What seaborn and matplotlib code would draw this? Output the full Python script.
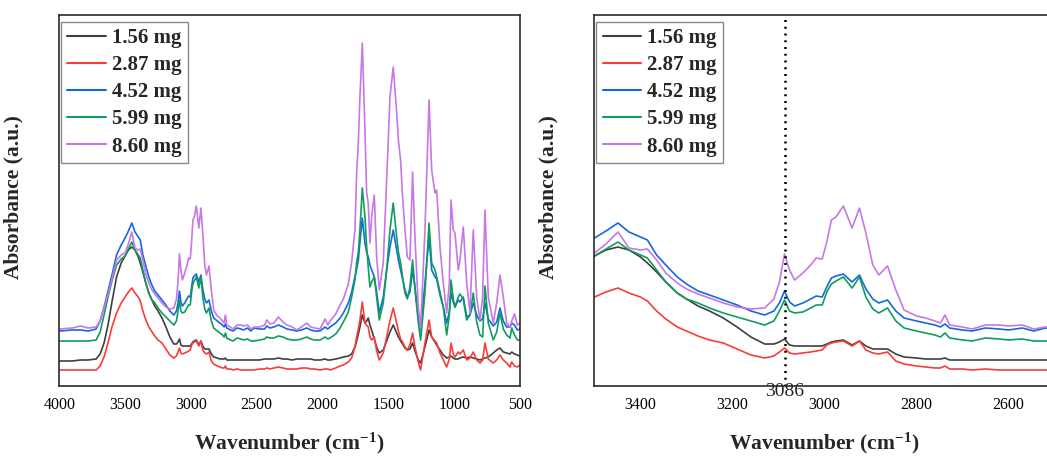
import matplotlib
matplotlib.use("Agg")
import matplotlib.pyplot as plt
import matplotlib.ticker as mticker
import pandas as pd
import seaborn as sns

# ---------------- data ----------------
wavenumber = [
    4000, 3900, 3840, 3780, 3720, 3690, 3660, 3630, 3600, 3565, 3530, 3500,
    3475, 3449, 3425, 3400, 3385, 3365, 3345, 3320, 3300, 3275, 3250, 3220, 3190, 3160, 3130,
    3110, 3098, 3087, 3076, 3065, 3047, 3030, 3018, 3005, 2995, 2985, 2975, 2959, 2940, 2924,
    2910, 2895, 2882, 2863, 2845, 2827, 2800, 2780, 2760, 2748, 2738, 2728, 2700, 2679, 2650,
    2620, 2600, 2570, 2545, 2520,
    2480, 2440, 2424, 2400, 2370, 2336, 2300, 2270, 2230, 2196, 2160, 2120, 2090, 2060, 2019,
    1981, 1960, 1943, 1900, 1867, 1842, 1804,
    1779, 1754, 1741, 1728, 1716, 1698, 1678, 1665, 1653, 1640, 1627, 1607, 1589, 1569, 1539,
    1513, 1488, 1463, 1437, 1424, 1407, 1392, 1374, 1356, 1336, 1316, 1298, 1273, 1255, 1222,
    1191, 1171, 1146, 1133, 1108, 1083, 1057, 1037, 1024, 1007, 994, 969, 956, 931, 905,
    880, 855, 829, 804, 784, 766, 741, 703, 677, 652, 627, 601, 576, 563, 542, 520, 500,
]

abs_156 = [
    .26, .26, .27, .27, .28, .33, .44, .62, .85, 1.10, 1.24, 1.31,
    1.37, 1.40, 1.37, 1.30, 1.24, 1.15, 1.05, .94, .88, .81, .76, .69, .60, .50, .43,
    .43, .45, .48, .42, .41, .41, .41, .41, .41, .43, .45, .46, .47, .42, .46,
    .41, .38, .38, .38, .33, .30, .29, .28, .28, .28, .29, .27, .27, .27, .27,
    .27, .27, .27, .27, .27,
    .27, .28, .28, .28, .28, .29, .28, .28, .27, .28, .28, .28, .28, .27, .27,
    .28, .27, .27, .28, .29, .30, .31,
    .33, .40, .46, .53, .60, .72, .64, .66, .69, .62, .57, .48, .40, .34, .37,
    .46, .55, .62, .54, .50, .46, .43, .39, .37, .38, .44, .36, .27, .24, .40,
    .57, .50, .45, .42, .37, .32, .29, .30, .31, .29, .28, .28, .29, .30, .29,
    .30, .29, .28, .27, .28, .29, .30, .34, .37, .39, .35, .34, .33, .35, .33, .32, .31,
]

abs_287 = [
    .17, .17, .17, .17, .17, .21, .30, .44, .60, .74, .84, .90,
    .95, .99, .94, .90, .86, .76, .68, .60, .56, .51, .47, .44, .38, .32, .29,
    .31, .35, .39, .34, .33, .34, .35, .36, .37, .42, .44, .45, .46, .41, .46,
    .37, .34, .33, .35, .26, .23, .21, .20, .19, .19, .21, .18, .18, .17, .18,
    .17, .17, .17, .17, .17,
    .18, .18, .19, .18, .19, .20, .19, .18, .18, .18, .19, .19, .18, .18, .17,
    .18, .18, .17, .19, .21, .22, .25,
    .29, .40, .50, .58, .67, .85, .64, .62, .60, .50, .47, .50, .36, .27, .34,
    .50, .66, .79, .64, .56, .48, .45, .40, .37, .42, .54, .40, .25, .17, .44,
    .67, .50, .46, .44, .34, .27, .20, .28, .44, .33, .30, .35, .33, .37, .27,
    .29, .35, .27, .24, .27, .44, .28, .24, .27, .32, .27, .24, .20, .25, .21, .20, .22,
]

abs_452 = [
    .56, .57, .57, .56, .58, .66, .80, .96, 1.12, 1.32, 1.42, 1.49,
    1.56, 1.64, 1.55, 1.50, 1.47, 1.32, 1.22, 1.10, 1.03, .96, .92, .87, .82, .76, .72,
    .76, .84, .96, .85, .81, .84, .88, .91, .90, 1.00, 1.09, 1.11, 1.13, 1.05, 1.12,
    .98, .88, .84, .87, .76, .69, .66, .64, .62, .60, .63, .59, .57, .56, .59,
    .58, .57, .59, .56, .59,
    .58, .58, .61, .59, .60, .62, .60, .58, .57, .56, .57, .59, .57, .56, .56,
    .60, .58, .60, .64, .69, .74, .84,
    .95, 1.10, 1.18, 1.27, 1.45, 1.69, 1.44, 1.35, 1.30, 1.22, 1.17, 1.10, .95, .74, .90,
    1.17, 1.40, 1.57, 1.37, 1.27, 1.17, 1.08, .97, .90, .95, 1.17, 1.00, .70, .57, 1.04,
    1.50, 1.17, 1.10, 1.08, .92, .80, .64, .75, .94, .85, .80, .87, .85, .90, .70,
    .72, .84, .72, .66, .68, .84, .68, .61, .65, .79, .66, .60, .60, .64, .62, .57, .58,
]

abs_599 = [
    .46, .46, .46, .46, .47, .55, .72, .90, 1.06, 1.22, 1.28, 1.31,
    1.38, 1.45, 1.37, 1.32, 1.29, 1.17, 1.05, .94, .88, .84, .79, .74, .70, .66, .62,
    .66, .76, .87, .76, .74, .75, .79, .82, .82, .95, 1.03, 1.06, 1.10, .99, 1.10,
    .90, .78, .74, .79, .66, .59, .56, .54, .52, .50, .54, .49, .47, .46, .49,
    .48, .47, .48, .46, .46,
    .47, .48, .50, .49, .49, .51, .50, .48, .47, .47, .48, .50, .48, .47, .47,
    .50, .48, .49, .53, .59, .65, .75,
    .90, 1.07, 1.25, 1.35, 1.57, 1.99, 1.70, 1.40, 1.20, 1.00, 1.05, 1.10, .90, .67, .84,
    1.17, 1.57, 1.84, 1.50, 1.35, 1.24, 1.10, .94, .88, 1.00, 1.27, .98, .65, .47, .94,
    1.64, 1.24, 1.17, 1.10, .95, .80, .52, .72, 1.07, .88, .80, .90, .93, .88, .67,
    .72, .94, .65, .52, .50, 1.01, .64, .47, .55, .74, .58, .52, .49, .59, .52, .47, .47,
]

abs_860 = [
    .58, .59, .61, .59, .60, .66, .79, .93, 1.08, 1.27, 1.32, 1.34,
    1.43, 1.55, 1.39, 1.37, 1.38, 1.27, 1.14, 1.04, .98, .93, .89, .84, .80, .78, .79,
    .88, 1.05, 1.33, 1.17, 1.07, 1.14, 1.22, 1.29, 1.28, 1.45, 1.67, 1.70, 1.81, 1.59, 1.79,
    1.54, 1.22, 1.12, 1.21, .97, .77, .71, .69, .66, .64, .72, .62, .60, .58, .62,
    .62, .61, .62, .58, .60,
    .60, .62, .67, .63, .64, .70, .65, .62, .60, .57, .60, .64, .60, .59, .58,
    .68, .62, .66, .73, .82, .88, 1.03,
    1.25, 1.57, 2.14, 2.45, 2.90, 3.44, 2.57, 1.94, 1.84, 1.44, 1.70, 1.92, 1.30, .97, 1.24,
    2.07, 2.90, 3.20, 2.75, 2.47, 2.27, 1.90, 1.57, 1.30, 1.27, 2.15, 1.50, .80, .59, 1.57,
    2.87, 2.17, 1.94, 1.97, 1.40, 1.04, .74, 1.04, 1.87, 1.57, 1.54, 1.17, 1.27, 1.60, 1.04,
    .74, 1.57, .90, .67, .90, 1.77, .90, .64, .84, 1.12, .90, .64, .60, .66, .73, .62, .64,
]

labels = ["1.56 mg", "2.87 mg", "4.52 mg", "5.99 mg", "8.60 mg"]
colors = ["#3f3f3f", "#f83c3c", "#1468e0", "#0f9d5b", "#c777e6"]
left_ticks = [4000, 3500, 3000, 2500, 2000, 1500, 1000, 500]
right_ticks = [3400, 3200, 3000, 2800, 2600]
marked_wavenumber = 3086

# ---------------- build long table ----------------
series = [abs_156, abs_287, abs_452, abs_599, abs_860]
df = pd.concat(
    [pd.DataFrame({"Wavenumber": wavenumber, "Absorbance": vals, "Sample": lab})
     for lab, vals in zip(labels, series)],
    ignore_index=True,
)

sns.set_style("white")
plt.rcParams["font.family"] = ["Liberation Serif", "DejaVu Serif"]
plt.rcParams["mathtext.fontset"] = "custom"
plt.rcParams["mathtext.rm"] = "Liberation Serif:bold"
plt.rcParams["mathtext.it"] = "Liberation Serif:bold"
plt.rcParams["mathtext.bf"] = "Liberation Serif:bold"
plt.rcParams["mathtext.default"] = "rm"

fig = plt.figure(figsize=(10.47, 4.57), dpi=100)
ax1 = fig.add_axes([0.05664, 0.15536, 0.44002, 0.81116])
ax2 = fig.add_axes([0.56781, 0.15536, 0.43935, 0.81116])

for ax in (ax1, ax2):
    sns.lineplot(data=df, x="Wavenumber", y="Absorbance", hue="Sample",
                 hue_order=labels, palette=colors, estimator=None, sort=False,
                 linewidth=1.2, ax=ax)
    ax.set_ylim(0.01, 3.717)
    ax.set_yticks([])
    for sp in ax.spines.values():
        sp.set_color("#2b2b2b")
        sp.set_linewidth(1.2)
    ax.tick_params(axis="x", which="major", direction="out", length=5, width=1.2,
                   labelsize=11.5, pad=3, colors="#2b2b2b", labelcolor="black")
    ax.tick_params(axis="x", which="minor", direction="out", length=3, width=1.1,
                   colors="#2b2b2b")
    ax.set_ylabel("Absorbance (a.u.)", fontsize=15.5, fontweight="bold")
    ax.yaxis.set_label_coords(-0.078, 0.51)
    ax.set_xlabel("Wavenumber (cm$^{-1}$)", fontsize=15.5, fontweight="bold")
    ax.xaxis.set_label_coords(0.5, -0.122)

    handles, labs = ax.get_legend_handles_labels()
    leg = ax.legend(handles, labs, loc="upper left", bbox_to_anchor=(0.004, 0.982),
                    borderaxespad=0, frameon=True, fancybox=False, framealpha=1,
                    edgecolor="#8a8a8a",
                    prop=dict(family="Liberation Serif", weight="bold", size=15),
                    handlelength=1.85, handletextpad=0.3, labelspacing=0.34,
                    borderpad=0.3)
    leg.get_frame().set_linewidth(1.0)
    for h in leg.get_lines():
        h.set_linewidth(1.5)

ax1.set_xlim(4000, 500)
ax1.set_xticks(left_ticks)
ax1.xaxis.set_minor_locator(mticker.MultipleLocator(250))

ax2.set_xlim(3500, 2500)
ax2.set_xticks(right_ticks)
ax2.xaxis.set_minor_locator(mticker.MultipleLocator(100))
ax2.spines["right"].set_visible(False)
ax2.axvline(marked_wavenumber, color="black", linestyle=(0, (0.8, 1.9)), linewidth=1.8)
ax2.text(marked_wavenumber, -0.014, str(marked_wavenumber), transform=ax2.get_xaxis_transform(),
         ha="center", va="center", fontsize=14, family="Liberation Serif")

fig.savefig("out.png", dpi=100)
